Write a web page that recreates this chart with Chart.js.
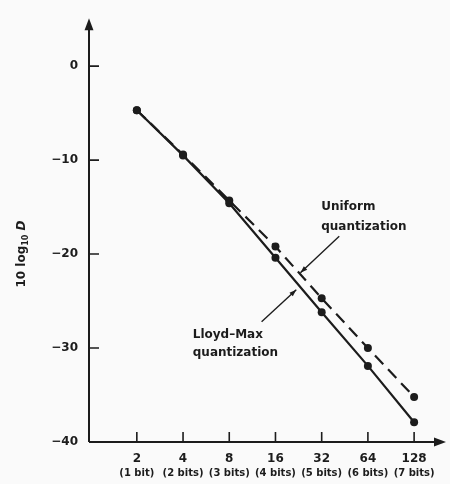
<!DOCTYPE html>
<html>
<head>
<meta charset="utf-8">
<script src="https://cdn.jsdelivr.net/npm/chart.js@4.4.1/dist/chart.umd.min.js"></script>
<style>
    html, body { margin: 0; padding: 0; background: #fafafa; }
    #wrap { width: 450px; height: 484px; }
</style>
</head>
<body>
<div id="wrap"><canvas id="chart"></canvas></div>
<script>
// levels on the x axis (number of quantizer levels) and bits per sample
const levels = ['2', '4', '8', '16', '32', '64', '128'];
const bitLabels = ['(1 bit)', '(2 bits)', '(3 bits)', '(4 bits)', '(5 bits)', '(6 bits)', '(7 bits)'];
const bits = [1, 2, 3, 4, 5, 6, 7];

// 10 log10 D
const lloydMax = [-4.7, -9.5, -14.6, -20.4, -26.2, -31.9, -37.9];
const uniform = [-4.7, -9.4, -14.3, -19.2, -24.7, -30.0, -35.2];

const yTicks = [0, -10, -20, -30, -40];

const ink = '#1c1c1c';
const font = 'DejaVu Sans';

// annotation text and pointers, in data units (bits, dB)
const notes = [
    { lines: ['Uniform', 'quantization'], b: 4.99, v: [-15.0, -17.1] },
    { lines: ['Lloyd\u2013Max', 'quantization'], b: 2.21, v: [-28.6, -30.5] }
];
const pointers = [
    { from: [5.38, -18.1], to: [4.54, -22.0] },
    { from: [3.70, -27.2], to: [4.45, -23.8] }
];

function arrowHead(ctx, x0, y0, x1, y1, len, half) {
    const a = Math.atan2(y1 - y0, x1 - x0);
    ctx.beginPath();
    ctx.moveTo(x1, y1);
    ctx.lineTo(x1 - len * Math.cos(a) + half * Math.sin(a), y1 - len * Math.sin(a) - half * Math.cos(a));
    ctx.lineTo(x1 - len * Math.cos(a) - half * Math.sin(a), y1 - len * Math.sin(a) + half * Math.cos(a));
    ctx.closePath();
    ctx.fill();
}

const decor = {
    id: 'decor',
    afterDraw(chart) {
        const ctx = chart.ctx;
        const { left, right, top, bottom } = chart.chartArea;
        const xs = chart.scales.x, ys = chart.scales.y;
        ctx.save();
        ctx.strokeStyle = ink;
        ctx.fillStyle = ink;
        ctx.lineWidth = 2;

        // axes with arrows
        ctx.beginPath();
        ctx.moveTo(left, bottom);
        ctx.lineTo(right - 6, bottom);
        ctx.moveTo(left, bottom);
        ctx.lineTo(left, top + 6);
        ctx.stroke();
        arrowHead(ctx, left, bottom, right, bottom, 12, 4.5);
        arrowHead(ctx, left, bottom, left, top, 12, 4.5);

        // inward tick marks
        ctx.lineWidth = 1.6;
        ctx.beginPath();
        yTicks.forEach(v => {
            const y = ys.getPixelForValue(v);
            ctx.moveTo(left, y);
            ctx.lineTo(left + 10, y);
        });
        bits.forEach(b => {
            const x = xs.getPixelForValue(b);
            ctx.moveTo(x, bottom);
            ctx.lineTo(x, bottom - 10);
        });
        ctx.stroke();

        // y axis title: 10 log10 D
        ctx.save();
        ctx.translate(22, 254);
        ctx.rotate(-Math.PI / 2);
        ctx.textBaseline = 'middle';
        const big = 'bold 12px ' + font, small = 'bold 8px ' + font, ital = 'bold italic 12px ' + font;
        ctx.font = big;
        const w1 = ctx.measureText('10 log').width;
        ctx.font = small;
        const w2 = ctx.measureText('10').width;
        ctx.font = ital;
        const w3 = ctx.measureText(' D').width;
        let x = -(w1 + w2 + w3) / 2;
        ctx.font = big;
        ctx.fillText('10 log', x, 0);
        x += w1;
        ctx.font = small;
        ctx.fillText('10', x, 4);
        x += w2;
        ctx.font = ital;
        ctx.fillText(' D', x, 0);
        ctx.restore();

        // annotations
        ctx.font = 'bold 12px ' + font;
        ctx.textBaseline = 'middle';
        ctx.textAlign = 'left';
        notes.forEach(n => {
            n.lines.forEach((t, i) => {
                ctx.fillText(t, xs.getPixelForValue(n.b), ys.getPixelForValue(n.v[i]));
            });
        });
        ctx.lineWidth = 1.4;
        pointers.forEach(p => {
            const x0 = xs.getPixelForValue(p.from[0]), y0 = ys.getPixelForValue(p.from[1]);
            const x1 = xs.getPixelForValue(p.to[0]), y1 = ys.getPixelForValue(p.to[1]);
            ctx.beginPath();
            ctx.moveTo(x0, y0);
            ctx.lineTo(x1, y1);
            ctx.stroke();
            arrowHead(ctx, x0, y0, x1, y1, 7, 2.5);
        });
        ctx.restore();
    }
};

const ctx = document.getElementById('chart').getContext('2d');
const chart = new Chart(ctx, {
    type: 'line',
    data: {
        datasets: [{
            label: 'Lloyd-Max quantization',
            data: bits.map((b, i) => ({ x: b, y: lloydMax[i] })),
            borderColor: ink,
            backgroundColor: ink,
            borderWidth: 2.2,
            pointRadius: 4,
            pointBackgroundColor: ink,
            pointBorderWidth: 0,
            tension: 0,
            fill: false,
        }, {
            label: 'Uniform quantization',
            data: bits.map((b, i) => ({ x: b, y: uniform[i] })),
            borderColor: ink,
            backgroundColor: ink,
            borderWidth: 2.2,
            borderDash: [12, 7],
            pointRadius: 4,
            pointBackgroundColor: ink,
            pointBorderWidth: 0,
            tension: 0,
            fill: false,
        }]
    },
    options: {
        responsive: true,
        maintainAspectRatio: false,
        animation: false,
        layout: { padding: { top: 18, right: 3, left: 0, bottom: 0 } },
        plugins: { legend: { display: false }, tooltip: { enabled: false } },
        scales: {
            x: {
                type: 'linear',
                position: 'bottom',
                min: -0.035,
                max: 7.69,
                afterFit: s => { s.height = 20; },
                afterBuildTicks: s => { s.ticks = bits.map(v => ({ value: v })); },
                grid: { display: false, drawTicks: false },
                border: { display: false },
                ticks: {
                    callback: v => levels[bits.indexOf(v)],
                    font: { family: font, size: 12, weight: 'bold' },
                    color: ink,
                    padding: 10,
                    maxRotation: 0,
                    autoSkip: false
                }
            },
            x2: {
                type: 'linear',
                position: 'bottom',
                min: -0.035,
                max: 7.69,
                afterFit: s => { s.height = 22; },
                afterBuildTicks: s => { s.ticks = bits.map(v => ({ value: v })); },
                grid: { display: false, drawTicks: false },
                border: { display: false },
                ticks: {
                    callback: v => bitLabels[bits.indexOf(v)],
                    font: { family: font, size: 10, weight: 'bold' },
                    color: ink,
                    padding: 5,
                    maxRotation: 0,
                    autoSkip: false
                }
            },
            y: {
                type: 'linear',
                min: -40,
                max: 5.1,
                afterFit: s => { s.width = 89; },
                afterBuildTicks: s => { s.ticks = yTicks.map(v => ({ value: v })); },
                grid: { display: false, drawTicks: false },
                border: { display: false },
                ticks: {
                    callback: v => (v < 0 ? '\u2212' + Math.abs(v) : String(v)),
                    font: { family: font, size: 12, weight: 'bold' },
                    color: ink,
                    padding: 11
                }
            }
        }
    },
    plugins: [decor]
});
</script>
</body>
</html>
